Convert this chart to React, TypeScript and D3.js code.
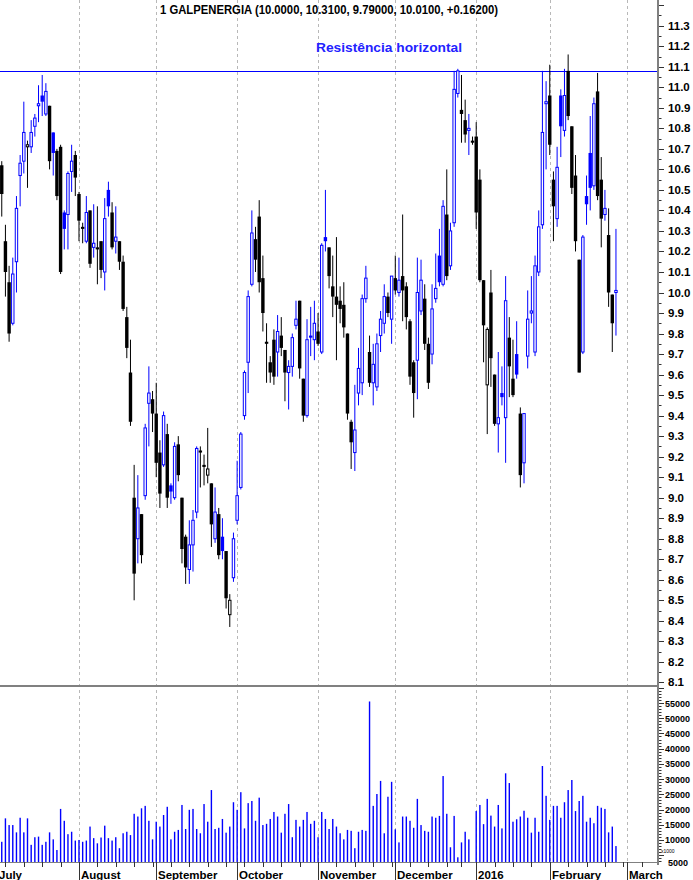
import React, { useEffect, useRef } from 'react'

import * as d3 from 'd3'

// Daily sessions, 3 Jul 2015 .. 25 Feb 2016
const opens = [
  // Jul
  10.62, 10.25, 10.05, 9.85, 10.15, 10.57, 10.64, 10.71, 10.71, 10.81, 10.91, 10.96, 10.87, 10.91, 10.78, 10.69, 10.71, 10.39, 10.38, 10.59, 10.67,
  // Aug
  10.48, 10.32, 10.25, 10.4, 10.22, 10.22, 10.25, 10.1, 10.5, 10.39, 10.25, 10.25, 10.15, 9.88, 9.61, 9.0, 8.8, 8.92, 9.01, 9.46, 9.48,
  // Sep
  9.41, 9.22, 9.16, 9.31, 9.06, 9.0, 9.26, 9.0, 8.81, 8.65, 8.77, 8.93, 9.23, 9.16, 9.11, 9.07, 8.8, 8.92, 8.81, 8.74, 8.43, 8.61,
  // Oct
  8.89, 9.05, 9.4, 9.66, 10.04, 10.26, 10.37, 10.07, 9.76, 9.66, 9.77, 9.71, 9.79, 9.72, 9.61, 9.64, 9.84, 9.96, 9.58, 9.4, 9.79, 9.77,
  // Nov
  9.81, 9.71, 10.27, 10.22, 10.03, 9.98, 9.96, 9.94, 9.8, 9.37, 9.22, 9.51, 9.56, 9.97, 9.71, 9.56, 9.54, 9.79, 9.85, 9.98, 9.87,
  // Dec
  10.07, 10.0, 10.08, 10.03, 9.86, 9.66, 9.67, 9.91, 9.97, 9.75, 9.7, 9.97, 10.18, 10.04, 10.38, 10.13, 10.34, 10.97, 10.89, 10.84, 10.79, 10.74,
  // Jan
  10.76, 10.55, 10.06, 9.55, 10.0, 9.6, 9.36, 9.51, 9.39, 9.78, 9.58, 9.7, 9.41, 9.17, 9.69, 9.9, 9.71, 10.1, 10.33, 10.92,
  // Feb
  10.96, 10.55, 10.36, 10.96, 10.79, 11.08, 10.81, 10.57, 10.16, 9.71, 10.47, 10.68, 10.52, 10.98, 10.55, 10.38, 10.28, 9.99, 10.0,
]
const highs = [
  10.64, 10.33, 10.13, 10.17, 10.47, 10.67, 10.93, 10.74, 10.84, 10.87, 11.01, 11.06, 11.02, 10.91, 10.78, 10.7, 10.72, 10.4, 10.59, 10.72, 10.69,
  10.49, 10.34, 10.47, 10.4, 10.43, 10.42, 10.25, 10.46, 10.54, 10.44, 10.42, 10.25, 10.18, 9.93, 9.77, 9.16, 9.11, 8.92, 9.36, 9.64, 9.52,
  9.56, 9.28, 9.42, 9.36, 9.07, 9.27, 9.3, 9.0, 8.82, 8.89, 8.94, 9.25, 9.25, 9.21, 9.34, 9.07, 9.05, 8.95, 8.9, 8.74, 8.53, 8.83,
  9.18, 9.32, 9.62, 10.01, 10.4, 10.32, 10.45, 10.18, 9.85, 9.69, 9.82, 9.89, 9.88, 9.72, 9.67, 9.8, 9.96, 9.96, 9.58, 9.87, 9.93, 9.96,
  9.9, 10.24, 10.5, 10.22, 10.18, 10.27, 10.03, 10.05, 9.8, 9.38, 9.55, 9.73, 9.99, 10.13, 9.79, 9.75, 9.8, 9.91, 10.04, 10.0, 10.08,
  10.18, 10.17, 10.38, 10.05, 9.87, 9.67, 10.17, 10.16, 10.04, 9.78, 10.04, 10.19, 10.31, 10.45, 10.6, 10.34, 11.08, 11.09, 11.06, 10.94, 10.87, 10.76,
  10.83, 10.6, 10.06, 9.83, 10.11, 9.6, 9.71, 9.64, 10.08, 9.88, 9.77, 9.86, 9.44, 9.41, 10.01, 10.08, 10.18, 10.4, 11.08, 11.03,
  11.11, 10.59, 10.71, 10.99, 11.09, 11.16, 10.81, 10.67, 10.16, 10.28, 10.57, 10.86, 10.95, 11.07, 10.66, 10.5, 10.41, 9.99, 10.31,
]
const lows = [
  10.37, 9.98, 9.76, 9.84, 10.0, 10.42, 10.58, 10.51, 10.68, 10.76, 10.83, 10.86, 10.86, 10.6, 10.57, 10.45, 10.09, 10.21, 10.21, 10.49, 10.47,
  10.25, 10.24, 10.24, 10.12, 10.17, 10.04, 10.07, 10.01, 10.37, 10.21, 10.19, 10.11, 9.91, 9.68, 9.35, 8.5, 8.68, 8.68, 8.99, 9.25, 9.32,
  9.1, 8.95, 9.15, 8.95, 8.97, 8.99, 9.08, 8.68, 8.58, 8.58, 8.64, 8.9, 9.05, 9.06, 9.07, 8.76, 8.78, 8.7, 8.7, 8.46, 8.37, 8.59,
  8.87, 9.04, 9.38, 9.51, 10.03, 10.1, 10.0, 9.81, 9.56, 9.56, 9.55, 9.59, 9.69, 9.47, 9.43, 9.59, 9.82, 9.58, 9.37, 9.39, 9.69, 9.67,
  9.74, 9.7, 10.2, 10.02, 9.88, 9.67, 9.85, 9.78, 9.38, 9.14, 9.13, 9.45, 9.5, 9.95, 9.54, 9.45, 9.52, 9.71, 9.8, 9.88, 9.75,
  9.99, 9.98, 9.86, 9.82, 9.55, 9.39, 9.48, 9.89, 9.72, 9.53, 9.65, 9.95, 10.03, 10.03, 10.06, 10.11, 10.32, 10.95, 10.73, 10.73, 10.67, 10.72,
  10.31, 10.05, 9.66, 9.31, 9.54, 9.35, 9.22, 9.45, 9.17, 9.49, 9.49, 9.58, 9.05, 9.07, 9.63, 9.85, 9.69, 10.08, 10.31, 10.6,
  10.67, 10.25, 10.32, 10.66, 10.76, 10.84, 10.48, 10.2, 9.61, 9.7, 10.33, 10.4, 10.5, 10.45, 10.22, 10.35, 9.93, 9.71, 9.79,
]
const closes = [
  10.48, 10.1, 9.8, 10.09, 10.41, 10.63, 10.78, 10.72, 10.78, 10.85, 10.92, 10.93, 10.98, 10.64, 10.68, 10.47, 10.1, 10.31, 10.58, 10.64, 10.56,
  10.35, 10.31, 10.39, 10.14, 10.24, 10.21, 10.11, 10.36, 10.42, 10.22, 10.27, 10.15, 9.92, 9.73, 9.37, 8.63, 8.95, 8.72, 9.34, 9.51, 9.41,
  9.17, 9.02, 9.4, 9.0, 9.03, 9.25, 9.11, 8.75, 8.66, 8.77, 8.89, 9.24, 9.22, 9.15, 9.14, 8.87, 8.93, 8.72, 8.74, 8.51, 8.5, 8.8,
  9.01, 9.31, 9.61, 9.98, 10.29, 10.16, 10.05, 9.9, 9.75, 9.61, 9.59, 9.81, 9.73, 9.61, 9.64, 9.78, 9.87, 9.63, 9.4, 9.77, 9.78, 9.85,
  9.75, 10.23, 10.25, 10.08, 9.98, 9.94, 9.92, 9.83, 9.41, 9.27, 9.33, 9.63, 9.97, 10.07, 9.56, 9.65, 9.75, 9.87, 9.98, 9.9, 10.08,
  10.01, 10.06, 10.01, 9.88, 9.59, 9.51, 10.0, 10.06, 9.75, 9.56, 9.92, 10.02, 10.05, 10.42, 10.08, 10.3, 10.99, 11.08, 10.87, 10.77, 10.8, 10.73,
  10.39, 10.06, 9.84, 9.82, 9.68, 9.36, 9.39, 9.49, 9.96, 9.64, 9.5, 9.6, 9.11, 9.41, 9.87, 9.91, 10.13, 10.32, 10.78, 10.93,
  10.72, 10.42, 10.61, 10.81, 10.96, 10.86, 10.51, 10.25, 9.61, 10.27, 10.43, 10.51, 10.92, 10.47, 10.36, 10.41, 10.0, 9.85, 10.01,
]
// volume, shares
const volumes = [
  9400, 17100, 14900, 14900, 12500, 17300, 12500, 17100, 8400, 10900, 11100, 8400, 9400, 12500, 10200, 6700, 20200, 16300, 11900, 12700, 9800,
  10000, 9400, 9800, 14400, 10600, 8900, 10800, 14700, 10600, 9800, 10900, 7300, 12200, 12700, 11600, 18600, 17700, 20400, 21200, 16300, 10200,
  16000, 14400, 18200, 20900, 10200, 12700, 13300, 21500, 13600, 19900, 20200, 13600, 12200, 21800, 16000, 26400, 13600, 14000, 16900, 12400, 14400, 22400,
  19900, 25700, 13800, 22100, 22800, 16300, 23900, 14900, 15300, 16900, 19200, 17700, 12400, 18600, 21800, 10900, 16600, 14400, 16600, 19200, 15300, 16300,
  10900, 19200, 16900, 13600, 16900, 14400, 12200, 10200, 13300, 13000, 7300, 12700, 13300, 13000, 55500, 21200, 25100, 29400, 12200, 24200, 29100,
  13500, 9200, 17700, 17700, 16300, 14000, 23500, 14900, 13000, 12700, 17700, 17300, 17900, 31000, 18600, 7600, 17900, 4300, 9200, 12700, 10200, 2000,
  19500, 21500, 15200, 23500, 18000, 14400, 21500, 13800, 31900, 28700, 16000, 16800, 17700, 19600, 17300, 12400, 17300, 12700, 34300, 24500,
  16600, 21200, 21200, 17300, 22400, 26400, 29700, 19500, 22800, 24500, 16000, 17300, 15500, 21200, 20600, 20200, 12500, 14400, 8000,
]

const title = '1 GALPENERGIA (10.0000, 10.3100, 9.79000, 10.0100, +0.16200)'
const note = 'Resistência horizontal'
const resistance = 11.08

const monthLabels = ['July', 'August', 'September', 'October', 'November', 'December', '2016', 'February', 'March']
const holidays = ['2015-12-25', '2016-01-01']
const priceTicks = d3.range(81, 115).map((d) => d / 10)
const volumeTicks = d3.range(10000, 60000, 5000)

const W = 693
const H = 880
const plotRight = 658
const priceBottom = 686
const volBottom = 862
const BLUE = '#0000ff'
const FONT = "'Liberation Sans', Arial, sans-serif"

const App: React.FC = () => {
  const ref = useRef<SVGSVGElement | null>(null)

  useEffect(() => {
    const svg = d3.select(ref.current)
    svg.selectAll('*').remove()

    // trading calendar (weekdays minus exchange holidays)
    const fmt = d3.timeFormat('%Y-%m-%d')
    const days = d3.timeDay
      .range(new Date(2015, 6, 3), new Date(2016, 2, 9))
      .filter((d) => d.getDay() > 0 && d.getDay() < 6 && !holidays.includes(fmt(d)))

    const x = d3.scaleLinear().domain([0, 170]).range([1.75, 627])
    const y = d3.scaleLinear().domain([10, 11]).range([292.5, 87.3])
    const yv = d3.scaleLinear().domain([0, 55000]).range([870.4, 703])

    const monthStarts: number[] = []
    days.forEach((d, i) => {
      if (i > 0 && d.getMonth() !== days[i - 1].getMonth()) monthStarts.push(i)
    })
    const mondays = days.map((d, i) => (d.getDay() === 1 ? i : -1)).filter((i) => i >= 0)

    const defs = svg.append('defs')
    defs.append('clipPath').attr('id', 'pclip').append('rect')
      .attr('x', 0).attr('y', 0).attr('width', plotRight - 1).attr('height', priceBottom - 1)
    defs.append('clipPath').attr('id', 'vclip').append('rect')
      .attr('x', 0).attr('y', priceBottom + 1).attr('width', plotRight - 1).attr('height', volBottom - priceBottom - 1)

    svg.append('rect').attr('width', W).attr('height', H).attr('fill', '#fff')

    // month grid
    svg.append('g').selectAll('line').data(monthStarts).join('line')
      .attr('x1', (i) => Math.round(x(i)) + 0.5).attr('x2', (i) => Math.round(x(i)) + 0.5)
      .attr('y1', 0).attr('y2', volBottom)
      .attr('stroke', '#b8b8b8').attr('stroke-dasharray', '3,3')

    // resistance line
    const ry = Math.round(y(resistance)) + 0.5
    svg.append('line').attr('x1', 0).attr('x2', plotRight).attr('y1', ry).attr('y2', ry)
      .attr('stroke', BLUE).attr('stroke-width', 1)

    // candles
    const idx = d3.range(closes.length)
    const colour = (i: number) => {
      const ref0 = i === 0 ? opens[0] : closes[i - 1]
      return closes[i] >= ref0 ? BLUE : '#000'
    }
    const pg = svg.append('g').attr('clip-path', 'url(#pclip)')
    pg.selectAll('line.wick').data(idx).join('line').attr('class', 'wick')
      .attr('x1', (i) => x(i)).attr('x2', (i) => x(i))
      .attr('y1', (i) => y(highs[i])).attr('y2', (i) => y(lows[i]))
      .attr('stroke', colour).attr('stroke-width', 1)
    pg.selectAll('rect.body').data(idx).join('rect').attr('class', 'body')
      .each(function (i) {
        const top = y(Math.max(opens[i], closes[i]))
        const bot = y(Math.min(opens[i], closes[i]))
        const h = Math.max(bot - top, 1)
        const el = d3.select(this)
        if (closes[i] >= opens[i]) {
          el.attr('x', x(i) - 1.2).attr('width', 2.4).attr('y', top).attr('height', h)
            .attr('fill', '#fff').attr('stroke', colour(i)).attr('stroke-width', 1)
        } else {
          el.attr('x', x(i) - 1.7).attr('width', 3.4).attr('y', top).attr('height', h)
            .attr('fill', colour(i))
        }
      })

    // volume
    svg.append('g').attr('clip-path', 'url(#vclip)')
      .selectAll('rect').data(idx).join('rect')
      .attr('x', (i) => x(i) - 0.7).attr('width', 1.4)
      .attr('y', (i) => yv(volumes[i])).attr('height', (i) => Math.max(0, volBottom - yv(volumes[i])))
      .attr('fill', BLUE)

    // panel separator + axes
    svg.append('line').attr('x1', 0).attr('x2', plotRight).attr('y1', priceBottom).attr('y2', priceBottom)
      .attr('stroke', '#808080').attr('stroke-width', 2)
    svg.append('line').attr('x1', 0).attr('x2', plotRight).attr('y1', volBottom + 0.5).attr('y2', volBottom + 0.5)
      .attr('stroke', '#808080').attr('stroke-width', 1)
    svg.append('line').attr('x1', plotRight).attr('x2', plotRight).attr('y1', 0).attr('y2', volBottom + 3)
      .attr('stroke', '#808080').attr('stroke-width', 2)

    const ax = svg.append('g').attr('stroke', '#333').attr('stroke-width', 1)
    priceTicks.forEach((v) => {
      const ty = Math.round(y(v)) + 0.5
      ax.append('line').attr('x1', plotRight + 1).attr('x2', plotRight + 6).attr('y1', ty).attr('y2', ty)
      const my = Math.round(y(v + 0.05)) + 0.5
      if (my > 1) ax.append('line').attr('x1', plotRight + 1).attr('x2', plotRight + 3.5).attr('y1', my).attr('y2', my)
    })
    d3.range(1000, 60001, 1000).forEach((v) => {
      const ty = Math.round(yv(v)) + 0.5
      if (ty < priceBottom + 2 || ty > volBottom + 2) return
      ax.append('line').attr('x1', plotRight + 1).attr('x2', plotRight + (v % 5000 === 0 ? 6 : 3.5))
        .attr('y1', ty).attr('y2', ty)
    })
    mondays.forEach((i) => {
      const tx = Math.round(x(i)) + 0.5
      ax.append('line').attr('x1', tx).attr('x2', tx).attr('y1', volBottom).attr('y2', volBottom + 5)
    })
    monthStarts.forEach((i) => {
      const tx = Math.round(x(i)) + 0.5
      ax.append('line').attr('x1', tx).attr('x2', tx).attr('y1', volBottom).attr('y2', H)
    })

    // labels
    const txt = svg.append('g').attr('font-family', FONT).attr('font-weight', 'bold').attr('fill', '#000')
    priceTicks.filter((v) => v < 11.35).forEach((v) => {
      txt.append('text').attr('x', 668).attr('y', y(v) + 4).attr('font-size', 11.5).text(v.toFixed(1))
    })
    volumeTicks.forEach((v) => {
      txt.append('text').attr('x', 665).attr('y', yv(v) + 3.5).attr('font-size', 9).text(String(v))
    })
    txt.append('text').attr('x', 668).attr('y', 866).attr('font-size', 9).text('5000')
    txt.append('text').attr('x', 661).attr('y', 853).attr('font-size', 5).attr('font-weight', 'normal').text('x1000')

    txt.append('text').attr('x', -1).attr('y', 879).attr('font-size', 11.5).text(monthLabels[0])
    monthStarts.forEach((i, k) => {
      txt.append('text').attr('x', Math.round(x(i)) + 2).attr('y', 879).attr('font-size', 11.5).text(monthLabels[k + 1])
    })

    txt.append('text').attr('x', 160).attr('y', 14).attr('font-size', 12.5)
      .attr('textLength', 338).attr('lengthAdjust', 'spacingAndGlyphs').text(title)
    txt.append('text').attr('x', 316).attr('y', 52).attr('font-size', 13).attr('fill', '#2222ff')
      .attr('textLength', 146).attr('lengthAdjust', 'spacingAndGlyphs').text(note)
  }, [])

  return (
    <svg
      ref={ref}
      width={W}
      height={H}
      style={{ position: 'absolute', left: 0, top: 0, display: 'block' }}
    />
  )
}

export default App
